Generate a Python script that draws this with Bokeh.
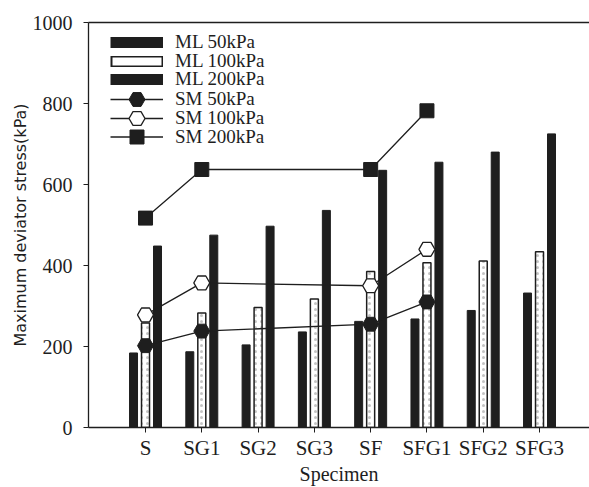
from bokeh.plotting import figure
from bokeh.models import Range1d, FixedTicker, LinearAxis, ColumnDataSource, Legend, LegendItem
from bokeh.transform import dodge
from bokeh.embed import file_html
from bokeh.resources import INLINE

# ---- data ----
specimens = ["S", "SG1", "SG2", "SG3", "SF", "SFG1", "SFG2", "SFG3"]
ml_50 = [184, 187, 204, 236, 262, 268, 289, 332]
ml_100 = [258, 283, 296, 317, 385, 407, 411, 434]
ml_200 = [448, 475, 497, 536, 635, 655, 680, 725]

sm_specimens = ["S", "SG1", "SF", "SFG1"]
sm_50 = [202, 238, 255, 310]
sm_100 = [278, 357, 350, 440]
sm_200 = [517, 637, 637, 782]

y_ticks = [0, 200, 400, 600, 800, 1000]

x_pos = [i + 1 for i in range(len(specimens))]
sm_x = [specimens.index(s) + 1 for s in sm_specimens]

bars = ColumnDataSource(dict(x=x_pos, ml50=ml_50, ml100=ml_100, ml200=ml_200))
lines = ColumnDataSource(dict(x=sm_x, sm50=sm_50, sm100=sm_100, sm200=sm_200))
# a source with no drawable point, for legend-only swatches
blank = ColumnDataSource(dict(x=[float("nan")], y=[float("nan")]))

INK = "#1e1e1e"
SERIF = "Liberation Serif"

p = figure(width=589, height=487, output_backend="svg", toolbar_location=None,
           x_range=Range1d(-0.013, 8.888), y_range=Range1d(0, 1000),
           min_border_left=88, min_border_top=22, min_border_bottom=59,
           min_border_right=0)
p.grid.visible = False
p.outline_line_color = None
p.background_fill_color = "white"

bw = 0.142
off = 0.213
p.vbar(x=dodge("x", -off), top="ml50", width=bw, source=bars,
       fill_color=INK, line_color=INK)
p.vbar(x=dodge("x", 0), top="ml100", width=bw, source=bars,
       fill_color="white", line_color=INK, line_width=1.5,
       hatch_pattern=".", hatch_color="#888888", hatch_scale=6, hatch_alpha=0.5)
p.vbar(x=dodge("x", off), top="ml200", width=bw, source=bars,
       fill_color=INK, line_color=INK)

l50 = p.line("x", "sm50", source=lines, line_color=INK, line_width=1.3)
m50 = p.scatter("x", "sm50", source=lines, marker="hex", size=16, fill_color=INK,
                line_color=INK)
l100 = p.line("x", "sm100", source=lines, line_color=INK, line_width=1.3)
m100 = p.scatter("x", "sm100", source=lines, marker="hex", size=16, fill_color="white",
                 line_color=INK, line_width=1.3)
l200 = p.line("x", "sm200", source=lines, line_color=INK, line_width=1.3)
m200 = p.scatter("x", "sm200", source=lines, marker="square", size=14, fill_color=INK,
                 line_color=INK)

# legend swatches for the bar series (drawn only in the legend)
k50 = p.line("x", "y", source=blank, line_color=INK, line_width=11)
k100a = p.line("x", "y", source=blank, line_color=INK, line_width=11)
k100b = p.line("x", "y", source=blank, line_color="white", line_width=8,
               line_dash="0 2 49 10")
k200 = p.line("x", "y", source=blank, line_color=INK, line_width=11)

# axes
for ax in (p.xaxis[0], p.yaxis[0]):
    ax.axis_line_color = INK
    ax.axis_line_width = 1.3
    ax.major_tick_line_color = INK
    ax.minor_tick_line_color = None
    ax.major_tick_in = 0
    ax.major_tick_out = 5
    ax.major_label_text_font = SERIF
    ax.major_label_text_color = INK

p.xaxis.ticker = FixedTicker(ticks=x_pos)
p.xaxis.major_label_overrides = {x: s for x, s in zip(x_pos, specimens)}
p.xaxis.major_label_text_font_size = "21px"
p.xaxis.major_label_standoff = 3
p.xaxis.axis_label = "Specimen"
p.xaxis.axis_label_text_font = SERIF
p.xaxis.axis_label_text_font_style = "normal"
p.xaxis.axis_label_text_font_size = "20px"
p.xaxis.axis_label_text_color = INK
p.xaxis.axis_label_standoff = 0

p.yaxis.ticker = FixedTicker(ticks=y_ticks)
p.yaxis.major_label_text_font_size = "20px"
p.yaxis.major_label_standoff = 11
p.yaxis.axis_label = "Maximum deviator stress(kPa)"
p.yaxis.axis_label_text_font = "DejaVu Sans"
p.yaxis.axis_label_text_font_style = "normal"
p.yaxis.axis_label_text_font_size = "16px"
p.yaxis.axis_label_text_color = INK
p.yaxis.axis_label_standoff = 0

top = LinearAxis(ticker=FixedTicker(ticks=[]), major_tick_out=0, major_tick_in=0,
                 major_label_text_font_size="0px", axis_line_color=INK,
                 axis_line_width=1.3, minor_tick_line_color=None)
p.add_layout(top, "above")


def add_legend(label, renderers, y, gh):
    lg = Legend(items=[LegendItem(label=label, renderers=renderers)], location=(22, y))
    lg.border_line_color = None
    lg.background_fill_alpha = 0
    lg.padding = 0
    lg.margin = 0
    lg.spacing = 0
    lg.glyph_width = 53
    lg.glyph_height = gh
    lg.label_height = gh
    lg.label_standoff = 12
    lg.label_text_font = SERIF
    lg.label_text_font_size = "19px"
    lg.label_text_color = INK
    p.add_layout(lg, "center")


add_legend("ML 50kPa", [k50], 373, 24)
add_legend("ML 100kPa", [k100a, k100b], 354.5, 24)
add_legend("ML 200kPa", [k200], 336, 24)
add_legend("SM 50kPa", [l50, m50], 308, 40)
add_legend("SM 100kPa", [l100, m100], 289.5, 40)
add_legend("SM 200kPa", [l200, m200], 273, 35)

open("out.html", "w").write(file_html(p, INLINE))
